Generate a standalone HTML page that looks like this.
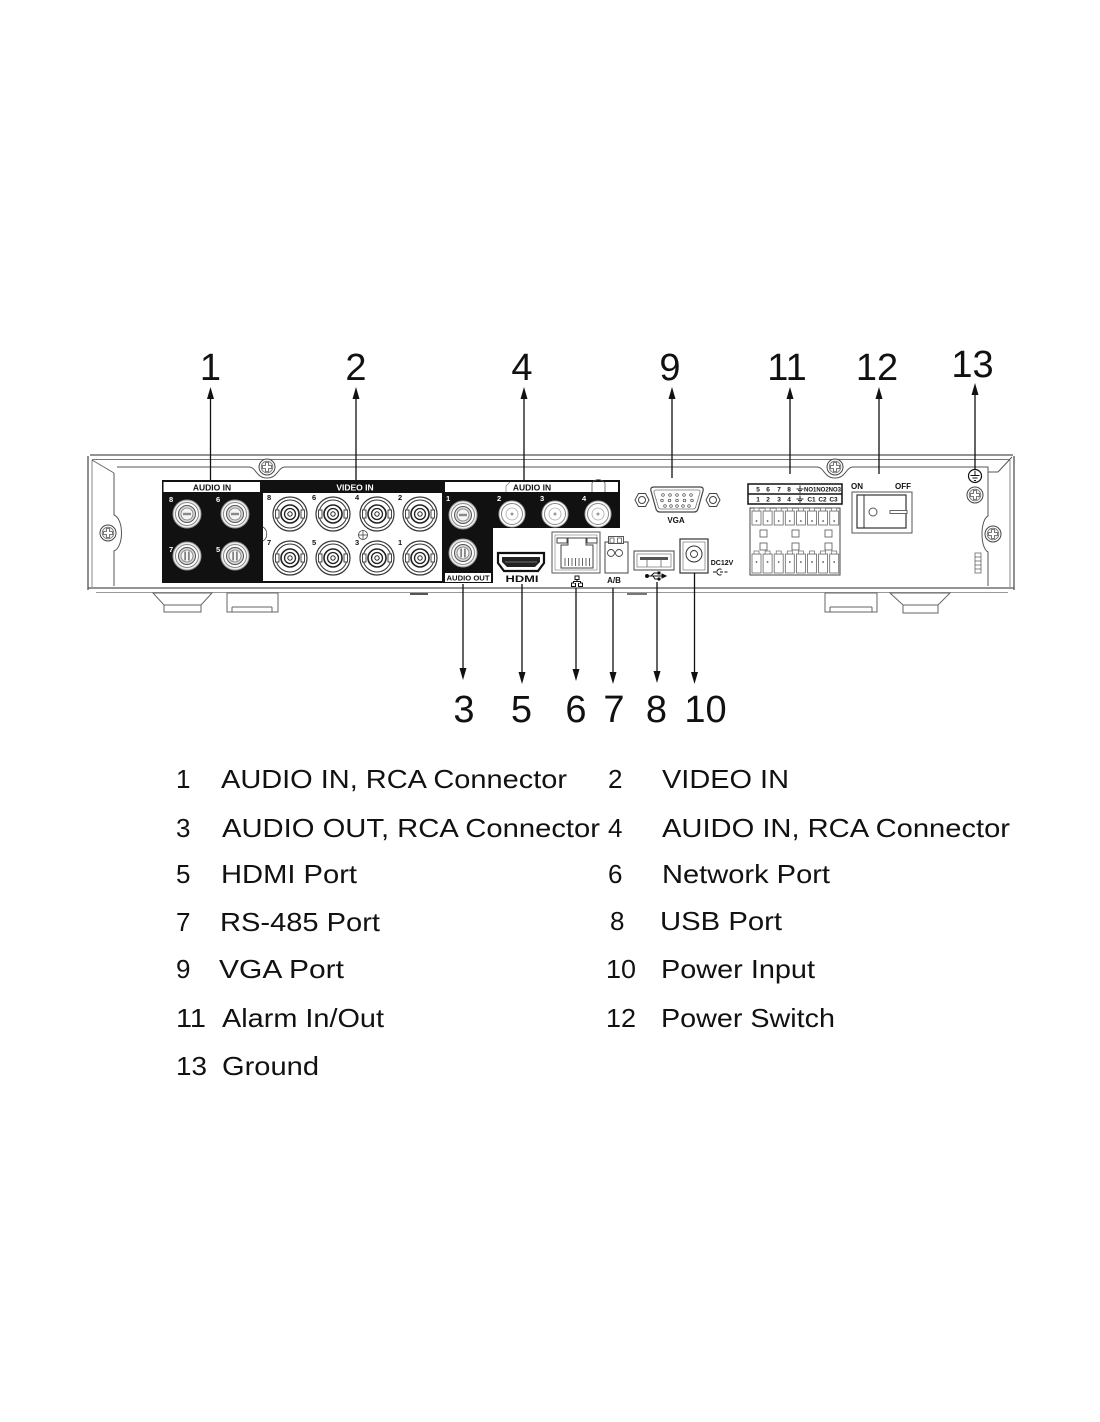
<!DOCTYPE html>
<html><head><meta charset="utf-8">
<style>
html,body{margin:0;padding:0;background:#fff;}
svg{display:block;}
text{font-family:"Liberation Sans",Arial,sans-serif;}
.b{font-weight:bold;}
</style></head><body>
<svg width="1100" height="1422" viewBox="0 0 1100 1422" xmlns="http://www.w3.org/2000/svg">
<defs>
 <g id="screw">
  <circle r="8" fill="#fff" stroke="#444" stroke-width="1"/>
  <circle r="5.8" fill="#eee" stroke="#666" stroke-width="0.8"/>
  <path d="M-1.5,-4.5 h3 v3 h3 v3 h-3 v3 h-3 v-3 h-3 v-3 h3 z" fill="#fff" stroke="#555" stroke-width="0.8"/>
 </g>
 <g id="bnc">
  <circle r="17" fill="#fff" stroke="#333" stroke-width="1.2"/>
  <circle r="14" fill="#fff" stroke="#333" stroke-width="1"/>
  <rect x="-14.5" y="-4" width="3.5" height="8" fill="#fff" stroke="#333" stroke-width="0.9"/>
  <rect x="11" y="-4" width="3.5" height="8" fill="#fff" stroke="#333" stroke-width="0.9"/>
  <circle r="9" fill="#fff" stroke="#222" stroke-width="1.6"/>
  <circle r="5.5" fill="#fff" stroke="#222" stroke-width="1.3"/>
  <circle r="2.2" fill="#fff" stroke="#222" stroke-width="1"/>
 </g>
 <g id="rcaA">
  <circle r="14" fill="#f0f0f0" stroke="#999" stroke-width="1"/>
  <circle r="11.5" fill="#fff" stroke="#888" stroke-width="1"/>
  <circle r="8.5" fill="#d8d8d8" stroke="#555" stroke-width="1"/>
  <circle r="6" fill="#f5f5f5" stroke="#777" stroke-width="0.8"/>
  <rect x="-4" y="-1.2" width="8" height="2.4" fill="#888"/>
 </g>
 <g id="rcaB">
  <circle r="14" fill="#f0f0f0" stroke="#999" stroke-width="1"/>
  <circle r="11.5" fill="#fff" stroke="#888" stroke-width="1"/>
  <circle r="8.5" fill="#d8d8d8" stroke="#555" stroke-width="1"/>
  <circle r="6" fill="#f5f5f5" stroke="#777" stroke-width="0.8"/>
  <rect x="-2.6" y="-4.5" width="1.4" height="9" fill="#666"/>
  <rect x="1.2" y="-4.5" width="1.4" height="9" fill="#666"/>
 </g>
 <g id="rcaW">
  <circle r="13" fill="#fff" stroke="#aaa" stroke-width="1"/>
  <circle r="10.5" fill="#fff" stroke="#888" stroke-width="1"/>
  <circle r="6" fill="#fff" stroke="#aaa" stroke-width="0.8"/>
  <circle r="1.5" fill="#999"/>
 </g>
 <g id="termT">
  <rect x="1" y="3" width="9" height="14" fill="#fff" stroke="#666" stroke-width="0.8"/>
  <rect x="3" y="0" width="5" height="3" fill="#fff" stroke="#666" stroke-width="0.7"/>
  <circle cx="5.5" cy="13" r="0.9" fill="#555"/>
 </g>
 <g id="termB">
  <rect x="1" y="3" width="9" height="19" fill="#fff" stroke="#666" stroke-width="0.8"/>
  <rect x="3" y="0" width="5" height="3" fill="#fff" stroke="#666" stroke-width="0.7"/>
  <circle cx="5.5" cy="11" r="0.9" fill="#555"/>
 </g>
</defs>

<rect width="1100" height="1422" fill="#fff"/>

<!-- ===== Device body ===== -->
<g fill="none" stroke="#555" stroke-width="1">
 <line x1="90" y1="455" x2="1013" y2="455" stroke-width="1.3"/>
 <line x1="92" y1="459.5" x2="1010" y2="459.5" stroke="#777"/>
 <line x1="88" y1="456" x2="88" y2="590" stroke-width="1.3"/>
 <line x1="92" y1="460" x2="92" y2="587" stroke="#888"/>
 <line x1="92" y1="460" x2="114" y2="473" stroke="#666"/>
 <line x1="1014" y1="456" x2="1014" y2="590" stroke-width="1.3"/>
 <line x1="1010" y1="460" x2="1010" y2="587" stroke="#888"/>
 <line x1="988" y1="472" x2="998" y2="472"/>
 <line x1="998" y1="472" x2="1012" y2="457"/>
 <path d="M117,467 H249 C256,467 256,478 267,478 C278,478 278,467 285,467 H817 C824,467 824,478 835,478 C846,478 846,467 853,467 H988 V516 C980,520 980,548 988,552 V586"/>
 <path d="M114,473 V515 C124,519 124,547 114,551 V586"/>
 <line x1="88" y1="588" x2="1014" y2="588" stroke-width="1.2"/>
 <line x1="96" y1="592.5" x2="1008" y2="592.5" stroke="#999"/>
</g>
<!-- feet -->
<g fill="#fff" stroke="#666" stroke-width="1">
 <polygon points="153,593 212,593 201,605 164,605"/>
 <rect x="164" y="605" width="37" height="7"/>
 <rect x="227" y="593" width="51" height="19"/>
 <line x1="232" y1="607" x2="272" y2="607"/>
 <line x1="232" y1="607" x2="232" y2="612"/>
 <line x1="272" y1="607" x2="272" y2="612"/>
 <rect x="825" y="593" width="52" height="19"/>
 <line x1="830" y1="607" x2="872" y2="607"/>
 <line x1="830" y1="607" x2="830" y2="612"/>
 <line x1="872" y1="607" x2="872" y2="612"/>
 <polygon points="890,593 950,593 938,605 903,605"/>
 <rect x="903" y="605" width="35" height="8"/>
</g>
<rect x="410" y="593" width="18" height="2" fill="#555"/>
<rect x="627" y="593" width="20" height="2" fill="#777"/>

<!-- screws -->
<use href="#screw" x="267" y="467"/>
<use href="#screw" x="835" y="467"/>
<use href="#screw" x="108" y="533"/>
<use href="#screw" x="975" y="495"/>
<use href="#screw" x="993" y="534"/>

<!-- ===== AUDIO IN (left) ===== -->
<rect x="162" y="480" width="100" height="103" fill="#111"/>
<rect x="163.5" y="482" width="97" height="10" fill="#fff"/>
<text x="212" y="490.5" font-size="8.5" class="b" text-anchor="middle" fill="#111">AUDIO IN</text>
<g font-size="7.5" class="b" fill="#fff">
 <text x="169" y="502">8</text><text x="216" y="502">6</text>
 <text x="169" y="552">7</text><text x="216" y="552">5</text>
</g>
<use href="#rcaA" x="187" y="514"/>
<use href="#rcaA" x="235" y="514"/>
<use href="#rcaB" x="187" y="556"/>
<use href="#rcaB" x="235" y="556"/>

<!-- ===== VIDEO IN ===== -->
<rect x="260" y="480" width="184" height="103" fill="#111"/>
<rect x="263" y="493" width="179" height="88" fill="#fff"/>
<text x="355" y="490.5" font-size="8.5" class="b" text-anchor="middle" fill="#fff">VIDEO IN</text>
<path d="M263,527 C268,530 268,538 263,541" fill="none" stroke="#444" stroke-width="0.8"/>
<use href="#bnc" x="290" y="514"/>
<use href="#bnc" x="333" y="514"/>
<use href="#bnc" x="377" y="514"/>
<use href="#bnc" x="420" y="514"/>
<use href="#bnc" x="290" y="558"/>
<use href="#bnc" x="333" y="558"/>
<use href="#bnc" x="377" y="558"/>
<use href="#bnc" x="420" y="558"/>
<g font-size="7.5" class="b" fill="#111">
 <text x="267" y="500">8</text><text x="312" y="500">6</text><text x="355" y="500">4</text><text x="398" y="500">2</text>
 <text x="267" y="545">7</text><text x="312" y="545">5</text><text x="355" y="545">3</text><text x="398" y="545">1</text>
</g>
<g fill="#fff" stroke="#444" stroke-width="0.8">
 <circle cx="363" cy="535" r="4.5"/>
 <line x1="358" y1="535" x2="368" y2="535"/>
 <line x1="363" y1="530" x2="363" y2="540"/>
</g>

<!-- ===== AUDIO IN (right) / AUDIO OUT ===== -->
<rect x="443" y="480" width="177" height="48" fill="#111"/>
<rect x="443" y="480" width="50" height="103" fill="#111"/>
<rect x="445" y="482" width="173" height="10" fill="#fff"/>
<path d="M592,492 V483 Q598,476 605,483 V492" fill="none" stroke="#555" stroke-width="0.8"/>
<path d="M506,492 V486 L510,482" fill="none" stroke="#777" stroke-width="0.7"/>
<text x="532" y="490.5" font-size="8.5" class="b" text-anchor="middle" fill="#111">AUDIO IN</text>
<g font-size="7.5" class="b" fill="#fff">
 <text x="446" y="501">1</text><text x="497" y="501">2</text><text x="540" y="501">3</text><text x="582" y="501">4</text>
</g>
<use href="#rcaA" x="463" y="515"/>
<use href="#rcaB" x="463" y="553"/>
<use href="#rcaW" x="512" y="514"/>
<use href="#rcaW" x="555" y="514"/>
<use href="#rcaW" x="598" y="514"/>
<rect x="445" y="573" width="46" height="9" fill="#fff"/>
<text x="468" y="580.5" font-size="7" class="b" text-anchor="middle" fill="#111" textLength="43" lengthAdjust="spacingAndGlyphs">AUDIO OUT</text>

<!-- ===== VGA ===== -->
<g fill="#fff" stroke="#444" stroke-width="1">
 <polygon points="635,500 638.5,493.5 645.5,493.5 649,500 645.5,506.5 638.5,506.5"/>
 <circle cx="642" cy="500" r="3.5"/>
 <polygon points="706,500 709.5,493.5 716.5,493.5 720,500 716.5,506.5 709.5,506.5"/>
 <circle cx="713" cy="500" r="3.5"/>
 <path d="M654,487 H700 Q704,487 703,491 L698,509 Q697,512 694,512 H660 Q657,512 656,509 L651,491 Q650,487 654,487 Z" stroke-width="1.2"/>
 <path d="M656,490 H698 Q700.5,490 700,492.5 L695.5,507.5 Q695,509 693,509 H661 Q659,509 658.5,507.5 L654,492.5 Q653.5,490 656,490 Z" stroke="#777" stroke-width="0.8"/>
</g>
<g fill="#fff" stroke="#444" stroke-width="0.7">
 <circle cx="663" cy="495" r="1.3"/><circle cx="670" cy="495" r="1.3"/><circle cx="677" cy="495" r="1.3"/><circle cx="684" cy="495" r="1.3"/><circle cx="691" cy="495" r="1.3"/>
 <circle cx="662" cy="500.5" r="1.3"/><circle cx="669.5" cy="500.5" r="1.3"/><circle cx="677" cy="500.5" r="1.3"/><circle cx="684.5" cy="500.5" r="1.3"/><circle cx="692" cy="500.5" r="1.3"/>
 <circle cx="665" cy="506" r="1.3"/><circle cx="671" cy="506" r="1.3"/><circle cx="677" cy="506" r="1.3"/><circle cx="683" cy="506" r="1.3"/><circle cx="689" cy="506" r="1.3"/>
</g>
<text x="676" y="523" font-size="8" class="b" text-anchor="middle" fill="#111">VGA</text>

<!-- ===== HDMI ===== -->
<polygon points="498,553 544,553 544,563 538,571 504,571 498,563" fill="#fff" stroke="#111" stroke-width="2.2"/>
<polygon points="502,557 540,557 540,562 535,567 507,567 502,562" fill="#222"/>
<line x1="505" y1="562" x2="537" y2="562" stroke="#888" stroke-width="0.8"/>
<text x="522" y="582" font-size="9" class="b" text-anchor="middle" fill="#111" textLength="33" lengthAdjust="spacingAndGlyphs">HDMI</text>

<!-- ===== RJ45 ===== -->
<rect x="552" y="532" width="48" height="41" fill="#fff" stroke="#555" stroke-width="1"/>
<rect x="555" y="535" width="42" height="35" fill="#fff" stroke="#999" stroke-width="0.8"/>
<rect x="557" y="538" width="10" height="5" fill="#fff" stroke="#333" stroke-width="0.9"/>
<rect x="587" y="538" width="10" height="5" fill="#fff" stroke="#333" stroke-width="0.9"/>
<path d="M568,538 H586 V545 H593 V568 H561 V545 H568 Z" fill="#fff" stroke="#444" stroke-width="1"/>
<g stroke="#555" stroke-width="0.9">
 <line x1="565" y1="558" x2="565" y2="566"/><line x1="568.5" y1="558" x2="568.5" y2="566"/><line x1="572" y1="558" x2="572" y2="566"/><line x1="575.5" y1="558" x2="575.5" y2="566"/>
 <line x1="579" y1="558" x2="579" y2="566"/><line x1="582.5" y1="558" x2="582.5" y2="566"/><line x1="586" y1="558" x2="586" y2="566"/><line x1="589.5" y1="558" x2="589.5" y2="566"/>
</g>
<g fill="#fff" stroke="#111" stroke-width="1">
 <rect x="575" y="576" width="4" height="3.5"/>
 <rect x="571.5" y="583" width="4" height="3.5"/>
 <rect x="578.5" y="583" width="4" height="3.5"/>
 <path d="M577,579.5 V581.5 M573.5,583 V581.5 H580.5 V583"/>
</g>

<!-- ===== A/B ===== -->
<rect x="605" y="542" width="23" height="31" fill="#fff" stroke="#444" stroke-width="1"/>
<rect x="608.5" y="536.5" width="15" height="7" fill="#fff" stroke="#444" stroke-width="0.9"/>
<rect x="610" y="538" width="4" height="5" fill="#fff" stroke="#444" stroke-width="0.7"/>
<rect x="617.5" y="538" width="4" height="5" fill="#fff" stroke="#444" stroke-width="0.7"/>
<circle cx="611" cy="553" r="3.5" fill="#fff" stroke="#444" stroke-width="0.9"/>
<circle cx="619" cy="553" r="3.5" fill="#fff" stroke="#444" stroke-width="0.9"/>
<text x="614" y="583" font-size="8" class="b" text-anchor="middle" fill="#111">A/B</text>

<!-- ===== USB ===== -->
<rect x="634" y="551" width="40" height="19" fill="#fff" stroke="#444" stroke-width="1"/>
<rect x="637" y="554" width="34" height="13" fill="#fff" stroke="#888" stroke-width="0.8"/>
<rect x="640" y="557" width="28" height="3" fill="#555"/>
<line x1="647" y1="560" x2="647" y2="567" stroke="#666" stroke-width="0.8"/>
<line x1="661" y1="560" x2="661" y2="567" stroke="#666" stroke-width="0.8"/>
<g stroke="#111" stroke-width="1" fill="#111">
 <line x1="648" y1="576" x2="663" y2="576"/>
 <circle cx="647" cy="576" r="1.5"/>
 <polygon points="666,576 662,574 662,578"/>
 <path d="M651,576 L654,573 H658" fill="none"/>
 <rect x="658" y="572" width="2" height="2"/>
 <path d="M653,576 L655,579 H658" fill="none"/>
 <circle cx="659" cy="579" r="1.1"/>
</g>

<!-- ===== DC jack ===== -->
<rect x="680" y="539" width="28" height="34" fill="#fff" stroke="#333" stroke-width="1.2"/>
<rect x="683" y="542" width="22" height="28" fill="#fff" stroke="#888" stroke-width="0.8"/>
<circle cx="694" cy="554" r="8" fill="#fff" stroke="#333" stroke-width="1"/>
<circle cx="694" cy="554" r="3.5" fill="#fff" stroke="#333" stroke-width="0.9"/>
<text x="722" y="565" font-size="7" class="b" text-anchor="middle" fill="#111">DC12V</text>
<g stroke="#111" stroke-width="1" fill="none">
 <line x1="713" y1="572" x2="716" y2="572"/>
 <path d="M721.5,569.5 A3,3 0 1 0 721.5,574.5"/>
 <line x1="720" y1="572" x2="723" y2="572"/>
 <line x1="724.5" y1="572" x2="727.5" y2="572"/>
</g>

<!-- ===== Alarm ===== -->
<rect x="748" y="484" width="94" height="20" fill="#fff" stroke="#111" stroke-width="1.5"/>
<line x1="748" y1="494" x2="842" y2="494" stroke="#111" stroke-width="1.5"/>
<g font-size="6.5" class="b" fill="#111" text-anchor="middle">
 <text x="758" y="491.5">5</text><text x="768" y="491.5">6</text><text x="779" y="491.5">7</text><text x="789" y="491.5">8</text>
 <text x="758" y="501.5">1</text><text x="768" y="501.5">2</text><text x="779" y="501.5">3</text><text x="789" y="501.5">4</text>
 <text x="811.5" y="501.5">C1</text><text x="822.5" y="501.5">C2</text><text x="833.5" y="501.5">C3</text>
</g>
<text x="804" y="491.5" font-size="6.5" class="b" fill="#111" textLength="37" lengthAdjust="spacingAndGlyphs">NO1NO2NO3</text>
<g stroke="#111" stroke-width="0.9">
 <line x1="800" y1="485.5" x2="800" y2="489"/>
 <line x1="796.5" y1="489" x2="803.5" y2="489"/>
 <line x1="798" y1="490.6" x2="802" y2="490.6"/>
 <line x1="799.2" y1="492" x2="800.8" y2="492"/>
 <line x1="800" y1="495.5" x2="800" y2="499"/>
 <line x1="796.5" y1="499" x2="803.5" y2="499"/>
 <line x1="798" y1="500.6" x2="802" y2="500.6"/>
 <line x1="799.2" y1="502" x2="800.8" y2="502"/>
</g>
<rect x="750" y="508" width="90" height="67" fill="#fff" stroke="#444" stroke-width="1"/>
<use href="#termT" x="751" y="508"/><use href="#termT" x="762.1" y="508"/><use href="#termT" x="773.2" y="508"/><use href="#termT" x="784.3" y="508"/>
<use href="#termT" x="795.4" y="508"/><use href="#termT" x="806.5" y="508"/><use href="#termT" x="817.6" y="508"/><use href="#termT" x="828.7" y="508"/>
<use href="#termB" x="751" y="551"/><use href="#termB" x="762.1" y="551"/><use href="#termB" x="773.2" y="551"/><use href="#termB" x="784.3" y="551"/>
<use href="#termB" x="795.4" y="551"/><use href="#termB" x="806.5" y="551"/><use href="#termB" x="817.6" y="551"/><use href="#termB" x="828.7" y="551"/>
<g fill="#fff" stroke="#555" stroke-width="0.8">
 <rect x="760" y="530" width="7" height="7"/><rect x="792" y="530" width="7" height="7"/><rect x="825" y="530" width="7" height="7"/>
 <rect x="760" y="543" width="7" height="7"/><rect x="792" y="543" width="7" height="7"/><rect x="825" y="543" width="7" height="7"/>
</g>

<!-- ===== Power switch ===== -->
<text x="857" y="489" font-size="8" class="b" text-anchor="middle" fill="#111">ON</text>
<text x="903" y="489" font-size="8" class="b" text-anchor="middle" fill="#111">OFF</text>
<rect x="852" y="492" width="60" height="41" fill="#fff" stroke="#555" stroke-width="1"/>
<rect x="857" y="495" width="49" height="33" fill="#fff" stroke="#333" stroke-width="1.2"/>
<line x1="864" y1="495" x2="864" y2="528" stroke="#333" stroke-width="1"/>
<circle cx="873" cy="512" r="4" fill="#fff" stroke="#555" stroke-width="1"/>
<rect x="890" y="510.5" width="17" height="3" fill="#fff" stroke="#555" stroke-width="0.9"/>

<!-- ground + vents -->
<circle cx="975" cy="476" r="6.5" fill="#fff" stroke="#111" stroke-width="1.2"/>
<g stroke="#111" stroke-width="1">
 <line x1="975" y1="471" x2="975" y2="475.5"/>
 <line x1="970.5" y1="475.5" x2="979.5" y2="475.5"/>
 <line x1="972.5" y1="478" x2="977.5" y2="478"/>
 <line x1="974" y1="480.5" x2="976" y2="480.5"/>
</g>
<rect x="975" y="553" width="6" height="20" fill="#fff" stroke="#666" stroke-width="0.8"/>
<g stroke="#666" stroke-width="0.8">
 <line x1="975" y1="557" x2="981" y2="557"/><line x1="975" y1="561" x2="981" y2="561"/>
 <line x1="975" y1="565" x2="981" y2="565"/><line x1="975" y1="569" x2="981" y2="569"/>
</g>

<!-- ===== Top callouts ===== -->
<g stroke="#111" stroke-width="1.3">
 <line x1="210.5" y1="396" x2="210.5" y2="481"/>
 <line x1="356" y1="396" x2="356" y2="481"/>
 <line x1="524" y1="396" x2="524" y2="480"/>
 <line x1="672" y1="396" x2="672" y2="478"/>
 <line x1="790" y1="396" x2="790" y2="474"/>
 <line x1="879" y1="396" x2="879" y2="474"/>
 <line x1="975" y1="394" x2="975" y2="469.5"/>
</g>
<g fill="#111">
 <polygon points="210.5,387 207,399 214,399"/>
 <polygon points="356,387 352.5,399 359.5,399"/>
 <polygon points="524,387 520.5,399 527.5,399"/>
 <polygon points="672,387 668.5,399 675.5,399"/>
 <polygon points="790,387 786.5,399 793.5,399"/>
 <polygon points="879,387 875.5,399 882.5,399"/>
 <polygon points="975,383 971.5,395 978.5,395"/>
</g>
<g font-size="38" fill="#111" text-anchor="middle">
 <text x="210.5" y="380">1</text>
 <text x="356" y="380">2</text>
 <text x="522" y="380">4</text>
 <text x="670" y="380">9</text>
 <text x="787" y="380">11</text>
 <text x="877" y="380">12</text>
 <text x="972.5" y="377">13</text>
</g>

<!-- ===== Bottom callouts ===== -->
<g stroke="#111" stroke-width="1.3">
 <line x1="463" y1="584" x2="463" y2="672"/>
 <line x1="522" y1="584" x2="522" y2="676"/>
 <line x1="576" y1="588" x2="576" y2="673"/>
 <line x1="613" y1="588" x2="613" y2="676"/>
 <line x1="657" y1="582" x2="657" y2="675"/>
 <line x1="694.5" y1="573" x2="694.5" y2="676"/>
</g>
<g fill="#111">
 <polygon points="463,680 459.5,668 466.5,668"/>
 <polygon points="522,684 518.5,672 525.5,672"/>
 <polygon points="576,681 572.5,669 579.5,669"/>
 <polygon points="613,684 609.5,672 616.5,672"/>
 <polygon points="657,683 653.5,671 660.5,671"/>
 <polygon points="694.5,684 691,672 698,672"/>
</g>
<g font-size="38" fill="#111" text-anchor="middle">
 <text x="464" y="722">3</text>
 <text x="521.5" y="722">5</text>
 <text x="576" y="722">6</text>
 <text x="614" y="722">7</text>
 <text x="656.5" y="722">8</text>
 <text x="705.5" y="722">10</text>
</g>

<!-- ===== Legend ===== -->
<g font-size="26" fill="#111">
 <text x="176" y="788">1</text>
 <text x="221" y="788" textLength="346" lengthAdjust="spacingAndGlyphs">AUDIO IN, RCA Connector</text>
 <text x="608" y="788">2</text>
 <text x="662" y="788" textLength="127" lengthAdjust="spacingAndGlyphs">VIDEO IN</text>

 <text x="176" y="837">3</text>
 <text x="222" y="837" textLength="378" lengthAdjust="spacingAndGlyphs">AUDIO OUT, RCA Connector</text>
 <text x="608" y="837">4</text>
 <text x="662" y="837" textLength="348" lengthAdjust="spacingAndGlyphs">AUIDO IN, RCA Connector</text>

 <text x="176" y="883">5</text>
 <text x="221" y="883" textLength="136" lengthAdjust="spacingAndGlyphs">HDMI Port</text>
 <text x="608" y="883">6</text>
 <text x="662" y="883" textLength="168" lengthAdjust="spacingAndGlyphs">Network Port</text>

 <text x="176" y="931">7</text>
 <text x="220" y="931" textLength="160" lengthAdjust="spacingAndGlyphs">RS-485 Port</text>
 <text x="610" y="930">8</text>
 <text x="660" y="930" textLength="122" lengthAdjust="spacingAndGlyphs">USB Port</text>

 <text x="176" y="978">9</text>
 <text x="219" y="978" textLength="125" lengthAdjust="spacingAndGlyphs">VGA Port</text>
 <text x="606" y="978" textLength="30" lengthAdjust="spacingAndGlyphs">10</text>
 <text x="661" y="978" textLength="154" lengthAdjust="spacingAndGlyphs">Power Input</text>

 <text x="176" y="1027" textLength="30" lengthAdjust="spacingAndGlyphs">11</text>
 <text x="222" y="1027" textLength="162" lengthAdjust="spacingAndGlyphs">Alarm In/Out</text>
 <text x="606" y="1027" textLength="30" lengthAdjust="spacingAndGlyphs">12</text>
 <text x="661" y="1027" textLength="174" lengthAdjust="spacingAndGlyphs">Power Switch</text>

 <text x="176" y="1075" textLength="31" lengthAdjust="spacingAndGlyphs">13</text>
 <text x="222" y="1075" textLength="97" lengthAdjust="spacingAndGlyphs">Ground</text>
</g>
</svg>
</body></html>
